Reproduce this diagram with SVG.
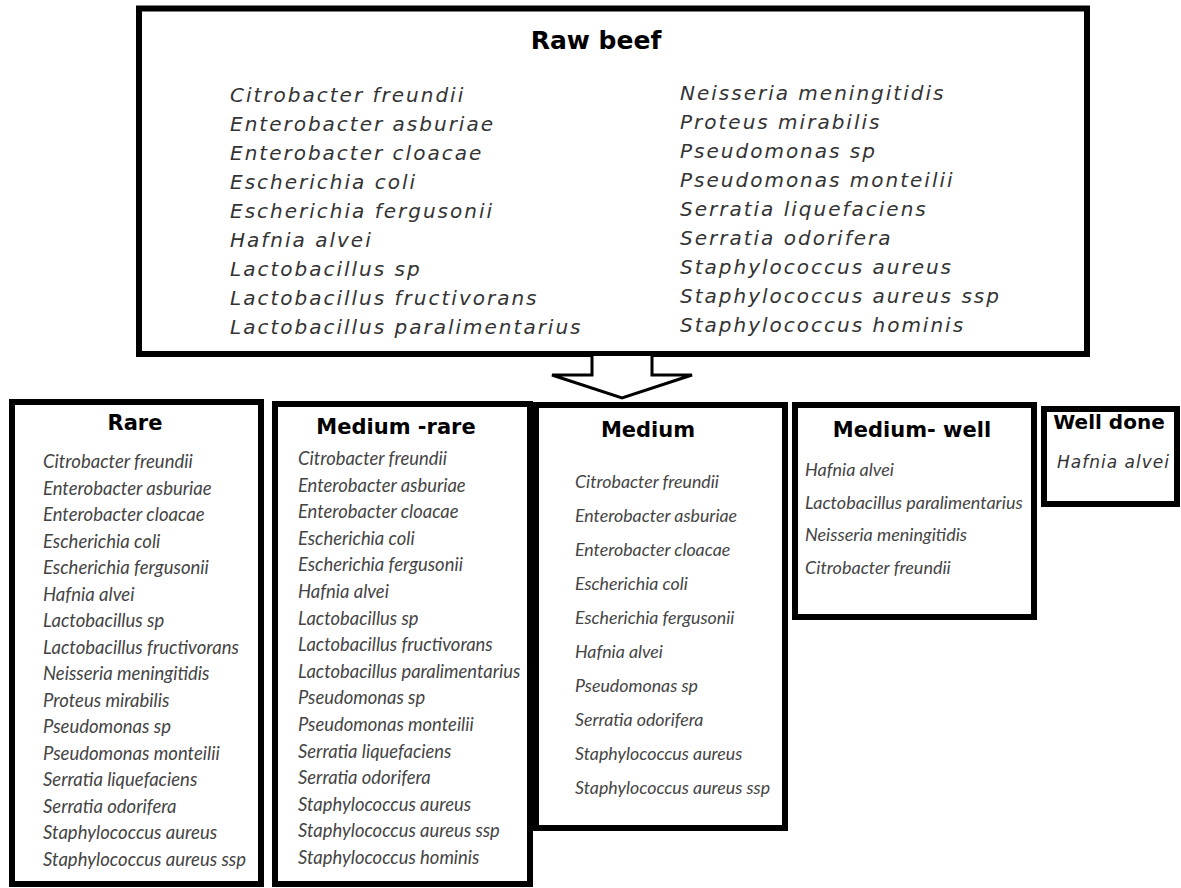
<svg xmlns="http://www.w3.org/2000/svg" width="1181" height="888" viewBox="0 0 1181 888">
<style>
.box{fill:#fff;stroke:#000;stroke-width:6}
.h{font-family:"DejaVu Sans",Verdana,sans-serif;font-weight:bold;fill:#000;text-anchor:middle}
.v{font-family:"DejaVu Sans",Verdana,sans-serif;font-style:oblique;fill:#333;font-size:20px;letter-spacing:2px}
.c{font-family:Lato,"Open Sans",sans-serif;font-style:italic;fill:#444}
</style>
<rect width="1181" height="888" fill="#fff"/>
<g id="raw-beef">
<rect class="box" x="139" y="8.5" width="948" height="345.5" stroke-width="7"/>
<text class="h" x="596" y="49" font-size="25">Raw beef</text>
<g class="v">
<text x="230" y="102">Citrobacter freundii</text>
<text x="230" y="131">Enterobacter asburiae</text>
<text x="230" y="160">Enterobacter cloacae</text>
<text x="230" y="189">Escherichia coli</text>
<text x="230" y="218">Escherichia fergusonii</text>
<text x="230" y="247">Hafnia alvei</text>
<text x="230" y="276">Lactobacillus sp</text>
<text x="230" y="305">Lactobacillus fructivorans</text>
<text x="230" y="334">Lactobacillus paralimentarius</text>
<text x="680" y="100">Neisseria meningitidis</text>
<text x="680" y="129">Proteus mirabilis</text>
<text x="680" y="158">Pseudomonas sp</text>
<text x="680" y="187">Pseudomonas monteilii</text>
<text x="680" y="216">Serratia liquefaciens</text>
<text x="680" y="245">Serratia odorifera</text>
<text x="680" y="274">Staphylococcus aureus</text>
<text x="680" y="303">Staphylococcus aureus ssp</text>
<text x="680" y="332">Staphylococcus hominis</text>
</g>
</g>
<g id="connectors">
<path d="M592,356 V375 H552 L622,398 L692,375 H652 V356" fill="#fff" stroke="#000" stroke-width="3" stroke-linejoin="miter"/>
</g>
<g id="rare">
<rect class="box" x="12" y="402" width="249" height="482"/>
<text class="h" x="135" y="430" font-size="21">Rare</text>
<g class="c" font-size="18.5">
<text x="43" y="468">Citrobacter freundii</text>
<text x="43" y="494.5">Enterobacter asburiae</text>
<text x="43" y="521">Enterobacter cloacae</text>
<text x="43" y="547.5">Escherichia coli</text>
<text x="43" y="574">Escherichia fergusonii</text>
<text x="43" y="600.5">Hafnia alvei</text>
<text x="43" y="627">Lactobacillus sp</text>
<text x="43" y="653.5">Lactobacillus fructivorans</text>
<text x="43" y="680">Neisseria meningitidis</text>
<text x="43" y="706.5">Proteus mirabilis</text>
<text x="43" y="733">Pseudomonas sp</text>
<text x="43" y="759.5">Pseudomonas monteilii</text>
<text x="43" y="786">Serratia liquefaciens</text>
<text x="43" y="812.5">Serratia odorifera</text>
<text x="43" y="839">Staphylococcus aureus</text>
<text x="43" y="865.5">Staphylococcus aureus ssp</text>
</g>
</g>
<g id="medium-rare">
<rect class="box" x="275" y="404" width="255" height="480"/>
<text class="h" x="396" y="434" font-size="21">Medium -rare</text>
<g class="c" font-size="18.4">
<text x="298" y="465">Citrobacter freundii</text>
<text x="298" y="491.6">Enterobacter asburiae</text>
<text x="298" y="518.2">Enterobacter cloacae</text>
<text x="298" y="544.8">Escherichia coli</text>
<text x="298" y="571.4">Escherichia fergusonii</text>
<text x="298" y="598">Hafnia alvei</text>
<text x="298" y="624.6">Lactobacillus sp</text>
<text x="298" y="651.2">Lactobacillus fructivorans</text>
<text x="298" y="677.8">Lactobacillus paralimentarius</text>
<text x="298" y="704.4">Pseudomonas sp</text>
<text x="298" y="731">Pseudomonas monteilii</text>
<text x="298" y="757.6">Serratia liquefaciens</text>
<text x="298" y="784.2">Serratia odorifera</text>
<text x="298" y="810.8">Staphylococcus aureus</text>
<text x="298" y="837.4">Staphylococcus aureus ssp</text>
<text x="298" y="864">Staphylococcus hominis</text>
</g>
</g>
<g id="medium">
<rect class="box" x="536" y="405" width="249" height="423"/>
<text class="h" x="648" y="437" font-size="21">Medium</text>
<g class="c" font-size="17.8">
<text x="575" y="488">Citrobacter freundii</text>
<text x="575" y="522">Enterobacter asburiae</text>
<text x="575" y="556">Enterobacter cloacae</text>
<text x="575" y="590">Escherichia coli</text>
<text x="575" y="624">Escherichia fergusonii</text>
<text x="575" y="658">Hafnia alvei</text>
<text x="575" y="692">Pseudomonas sp</text>
<text x="575" y="726">Serratia odorifera</text>
<text x="575" y="760">Staphylococcus aureus</text>
<text x="575" y="794">Staphylococcus aureus ssp</text>
</g>
</g>
<g id="medium-well">
<rect class="box" x="795" y="405" width="239" height="212"/>
<text class="h" x="912" y="437" font-size="21">Medium- well</text>
<g class="c" font-size="18">
<text x="805" y="476">Hafnia alvei</text>
<text x="805" y="508.5">Lactobacillus paralimentarius</text>
<text x="805" y="541">Neisseria meningitidis</text>
<text x="805" y="573.5">Citrobacter freundii</text>
</g>
</g>
<g id="well-done">
<rect class="box" x="1044" y="409" width="133" height="95"/>
<text class="h" x="1109" y="429" font-size="20">Well done</text>
<text x="1057" y="468" font-family="DejaVu Sans,Verdana,sans-serif" font-style="oblique" font-size="17" letter-spacing="1" fill="#333">Hafnia alvei</text>
</g>
</svg>
